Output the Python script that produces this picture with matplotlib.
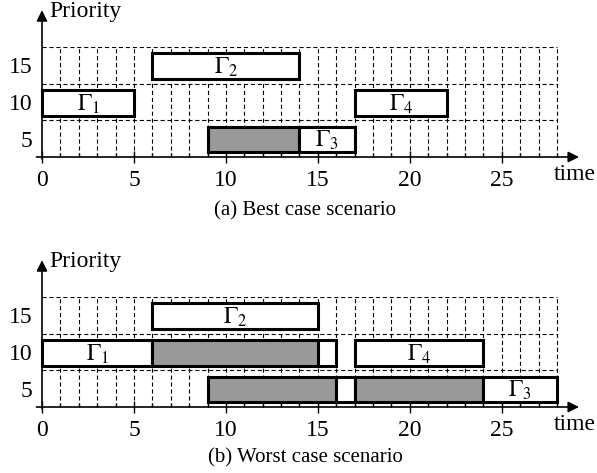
import matplotlib
matplotlib.use("Agg")
import matplotlib.pyplot as plt

plt.rcParams['font.family'] = ['Liberation Serif', 'DejaVu Serif']
plt.rcParams['mathtext.fontset'] = 'stix'
plt.rcParams['lines.scale_dashes'] = False

# ---------------- data ----------------
x_tick_values = [0, 5, 10, 15, 20, 25]
priority_labels = ['5', '10', '15']
priority_rows = [0, 1, 2]
n_time = 28

# (a) best case
best_rows = [1, 2, 0, 0, 1]
best_start = [0, 6, 9, 14, 17]
best_end = [5, 14, 14, 17, 22]
best_gray = [False, False, True, False, False]
best_labels = [r'$\Gamma_1$', r'$\Gamma_2$', '', r'$\Gamma_3$', r'$\Gamma_4$']

# (b) worst case
worst_rows = [1, 1, 1, 2, 0, 0, 0, 0, 1]
worst_start = [0, 6, 15, 6, 9, 16, 17, 24, 17]
worst_end = [6, 15, 16, 15, 16, 17, 24, 28, 24]
worst_gray = [False, True, False, False, True, False, True, False, False]
worst_labels = [r'$\Gamma_1$', '', '', r'$\Gamma_2$', '', '', '', r'$\Gamma_3$', r'$\Gamma_4$']

captions = ['(a) Best case scenario', '(b) Worst case scenario']

W, H = 597, 473
fig = plt.figure(figsize=(W / 100, H / 100), dpi=100)

px_per_unit = 18.39
x0_px = 42
row_px = 36.7


def panel(axis_px, rows, start, end, gray, labels, caption, cap_base_px):
    bottom = (H - axis_px) / H
    height = 3 * row_px / H
    ax = fig.add_axes([x0_px / W, bottom, (W - x0_px) / W, height])
    ax.set_xlim(0, (W - x0_px) / px_per_unit)
    ax.set_ylim(0, 3)
    for s in ax.spines.values():
        s.set_visible(False)
    ax.patch.set_visible(False)

    # grid
    dash = (0, (3, 2))
    ax.hlines([1, 2, 3], 0, n_time, colors='black', lw=0.8, linestyles=dash, zorder=1)
    ax.vlines(list(range(1, n_time + 1)), 0, 3, colors='black', lw=0.8, linestyles=dash, zorder=1)

    # bars
    for r, s, e, g, lab in zip(rows, start, end, gray, labels):
        ax.barh(r + 0.475, e - s, left=s, height=0.7,
                facecolor='#999999' if g else 'white', edgecolor='black',
                lw=2.2, zorder=3, clip_on=False)
        if lab:
            ax.text((s + e) / 2, r + 0.27, lab, ha='center', va='baseline',
                    fontsize=17, zorder=4)

    # axes arrows
    ax.annotate('', xy=(29.2, 0), xytext=(-0.3, 0), annotation_clip=False,
                arrowprops=dict(arrowstyle='-|>', lw=1.2, color='black',
                                mutation_scale=16, shrinkA=0, shrinkB=0), zorder=5)
    ax.annotate('', xy=(0, 4.0), xytext=(0, -0.05), annotation_clip=False,
                arrowprops=dict(arrowstyle='-|>', lw=1.2, color='black',
                                mutation_scale=16, shrinkA=0, shrinkB=0), zorder=5)

    # ticks
    ax.set_xticks(x_tick_values)
    ax.set_xticklabels([str(v) for v in x_tick_values])
    ax.set_xticks(range(0, n_time + 1), minor=True)
    ax.tick_params(axis='x', which='major', direction='inout', length=8,
                   width=1, labelsize=17, pad=5)
    ax.tick_params(axis='x', which='minor', direction='in', length=3, width=1)
    ax.set_yticks([r + 0.5 for r in priority_rows])
    ax.set_yticklabels(priority_labels)
    ax.tick_params(axis='y', length=0, labelsize=17, pad=7)

    ax.text(0.38, 3.81, 'Priority', ha='left', va='baseline', fontsize=17)
    ax.text(27.84, -0.63, 'time', ha='left', va='baseline', fontsize=17)
    ax.text(14.3, (axis_px - cap_base_px) / row_px, caption, ha='center',
            va='baseline', fontsize=15)
    return ax


panel(157, best_rows, best_start, best_end, best_gray, best_labels, captions[0], 215)
panel(407, worst_rows, worst_start, worst_end, worst_gray, worst_labels, captions[1], 462)

fig.savefig('out.png', dpi=100)
